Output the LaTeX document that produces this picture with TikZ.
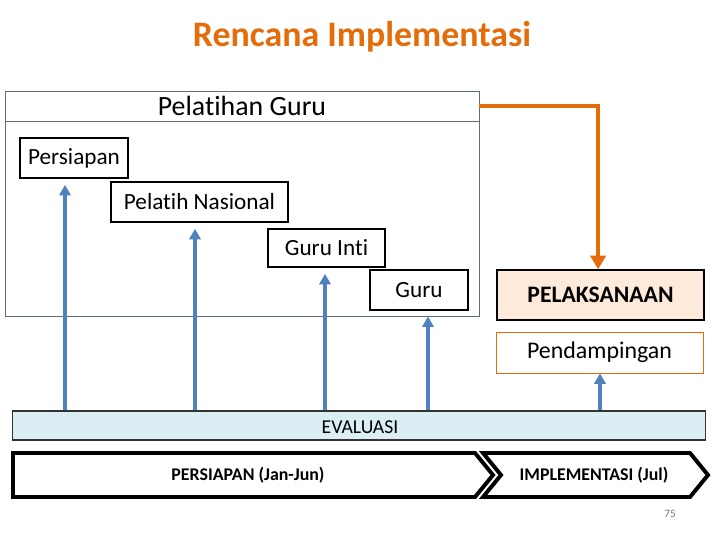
\documentclass[tikz,border=0pt]{standalone}
\usepackage{fontspec}
\setmainfont{Carlito}[Ligatures=NoCommon]
\usetikzlibrary{arrows.meta,positioning}

\definecolor{titleorange}{RGB}{228,108,10}
\definecolor{arrowblue}{RGB}{79,129,189}
\definecolor{evalfill}{RGB}{219,238,244}
\definecolor{peachfill}{RGB}{253,234,218}
\definecolor{framegray}{RGB}{95,110,125}
\definecolor{pagegray}{RGB}{120,120,120}

\begin{document}
\begin{tikzpicture}[x=0.025cm, y=-0.025cm,
    stagebox/.style={draw, line width=1.2pt, fill=white, inner sep=0pt,
                     minimum height=1cm, font=\fontsize{16.5}{18}\selectfont},
    upline/.style={draw=arrowblue, line width=2.2pt,
                   -{Triangle[length=2.6mm, width=2.8mm]}, shorten >=1.5mm},
    chevron/.style={draw, line width=2.8pt, line join=miter, fill=white}]

    \useasboundingbox (0,0) rectangle (720,540);

    % --- Judul ---
    \node[text=titleorange, font=\fontsize{25.5}{28}\bfseries\selectfont]
        (judul) at (362,37) {Rencana Implementasi};

    % --- Kotak besar: Pelatihan Guru ---
    \node[draw=framegray, line width=0.6pt, minimum width=11.85cm,
          minimum height=5.625cm, inner sep=0pt] (pelatihan) at (242,203.5) {};
    \draw[framegray, line width=0.6pt] (5,121) -- (479,121);
    \node[font=\fontsize{19.8}{22}\selectfont] (judulpel) at (242,106) {Pelatihan Guru};

    % --- Tahapan ---
    \node[stagebox, minimum width=2.7cm]   (persiapan) at (74,158)    {Persiapan};
    \node[stagebox, minimum width=4.425cm] (nasional)  at (199.5,202) {Pelatih Nasional};
    \node[stagebox, minimum width=2.925cm, minimum height=0.95cm]
                                           (inti)      at (326.5,248) {Guru Inti};
    \node[stagebox, minimum width=2.45cm]  (guru)      at (419,290)   {Guru};

    % --- Pelaksanaan dan pendampingan ---
    \node[draw, line width=1pt, fill=peachfill, minimum width=5.175cm,
          minimum height=1.25cm, inner sep=0pt,
          font=\fontsize{16.8}{18}\bfseries\selectfont] (pelaksanaan) at (600.5,295) {PELAKSANAAN};
    \node[draw=titleorange, line width=0.6pt, fill=white, minimum width=5.175cm,
          minimum height=1.025cm, inner sep=0pt,
          font=\fontsize{17}{18}\selectfont] (pendampingan) at (599.5,352.5) {Pendampingan};

    % --- Evaluasi ---
    \node[draw=black!80, line width=0.8pt, fill=evalfill, minimum width=17.3cm,
          minimum height=0.725cm, inner sep=0pt] (evaluasi) at (359,425.5) {};
    \node[font=\fontsize{14}{16}\selectfont] (evaltext) at (360,427) {EVALUASI};

    % --- Panah evaluasi ke atas ---
    \coordinate (a1) at (65,0);
    \coordinate (a2) at (195,0);
    \coordinate (a3) at (325,0);
    \coordinate (a4) at (428,0);
    \coordinate (a5) at (600,0);
    \draw[upline] (a1 |- evaluasi.north) -- (a1 |- persiapan.south);
    \draw[upline] (a2 |- evaluasi.north) -- (a2 |- nasional.south);
    \draw[upline] (a3 |- evaluasi.north) -- (a3 |- inti.south);
    \draw[upline, shorten >=0pt] (a4 |- evaluasi.north) -- (a4 |- pelatihan.south);
    \draw[upline, shorten >=0pt] (a5 |- evaluasi.north) -- (pendampingan.south -| a5);

    % --- Panah oranye ---
    \draw[titleorange, line width=3pt, -{Triangle[length=3.4mm, width=3.8mm]}]
        (pelatihan.east |- judulpel) -| ([xshift=-0.06cm]pelaksanaan.north);

    % --- Garis waktu ---
    \draw[chevron] (13,453) -- (475,453) -- (493,475) -- (475,497) -- (13,497) -- cycle;
    \draw[chevron] (483,453) -- (690,453) -- (708,475) -- (690,497) -- (483,497)
        -- (501,475) -- cycle;
    \node[font=\fontsize{12.7}{14}\bfseries\selectfont] (fase1) at (248,475) {PERSIAPAN (Jan-Jun)};
    \node[font=\fontsize{12.7}{14}\bfseries\selectfont] (fase2) at (594,475) {IMPLEMENTASI (Jul)};

    % --- Nomor halaman ---
    \node[text=pagegray, font=\fontsize{8}{9}\selectfont] (hal) at (670,514) {75};

\end{tikzpicture}
\end{document}
